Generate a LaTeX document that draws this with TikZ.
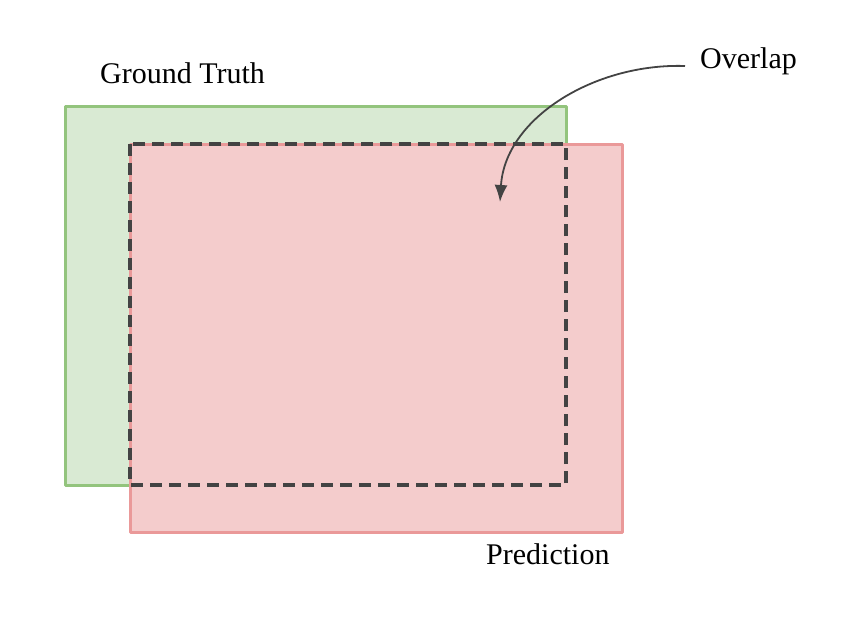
\documentclass[tikz,border=0pt]{standalone}
\usepackage{fontspec}
\setmainfont{Liberation Serif}
\usetikzlibrary{positioning, arrows.meta}
\definecolor{truth-fill}{HTML}{D9EAD3}
\definecolor{truth-line}{HTML}{93C47D}
\definecolor{pred-fill}{HTML}{F4CCCC}
\definecolor{pred-line}{HTML}{EA9999}
\definecolor{overlap-line}{HTML}{434343}

\begin{document}
\begin{tikzpicture}[x=1pt, y=-1pt,
box/.style={line width=3pt, line join=round},
label/.style={inner sep=0pt, anchor=base west, font=\fontsize{30}{36}\selectfont}
]
\useasboundingbox (0,0) rectangle (862,634);

\begin{scope}[box]
\draw[truth-line, fill=truth-fill] (65,106) rectangle (566,485);
\draw[pred-line, fill=pred-fill] (130,144) rectangle (622,532);
\draw[overlap-line, line width=3.3pt, dash pattern=on 12pt off 7pt] (130,144) rectangle (566,485);
\end{scope}

\node[label](truth) at (100,83) {Ground Truth};
\node[label](pred) at (486,564) {Prediction};
\node[label](over) at (700,69) {Overlap};

\coordinate (start) at (685,66);
\coordinate (tip) at (500,202);
\draw[-{Latex[length=17pt, width=13pt]}, overlap-line, line width=1.8pt]
  (start) .. controls (595,63) and (505,118) .. (tip);

\end{tikzpicture}
\end{document}
